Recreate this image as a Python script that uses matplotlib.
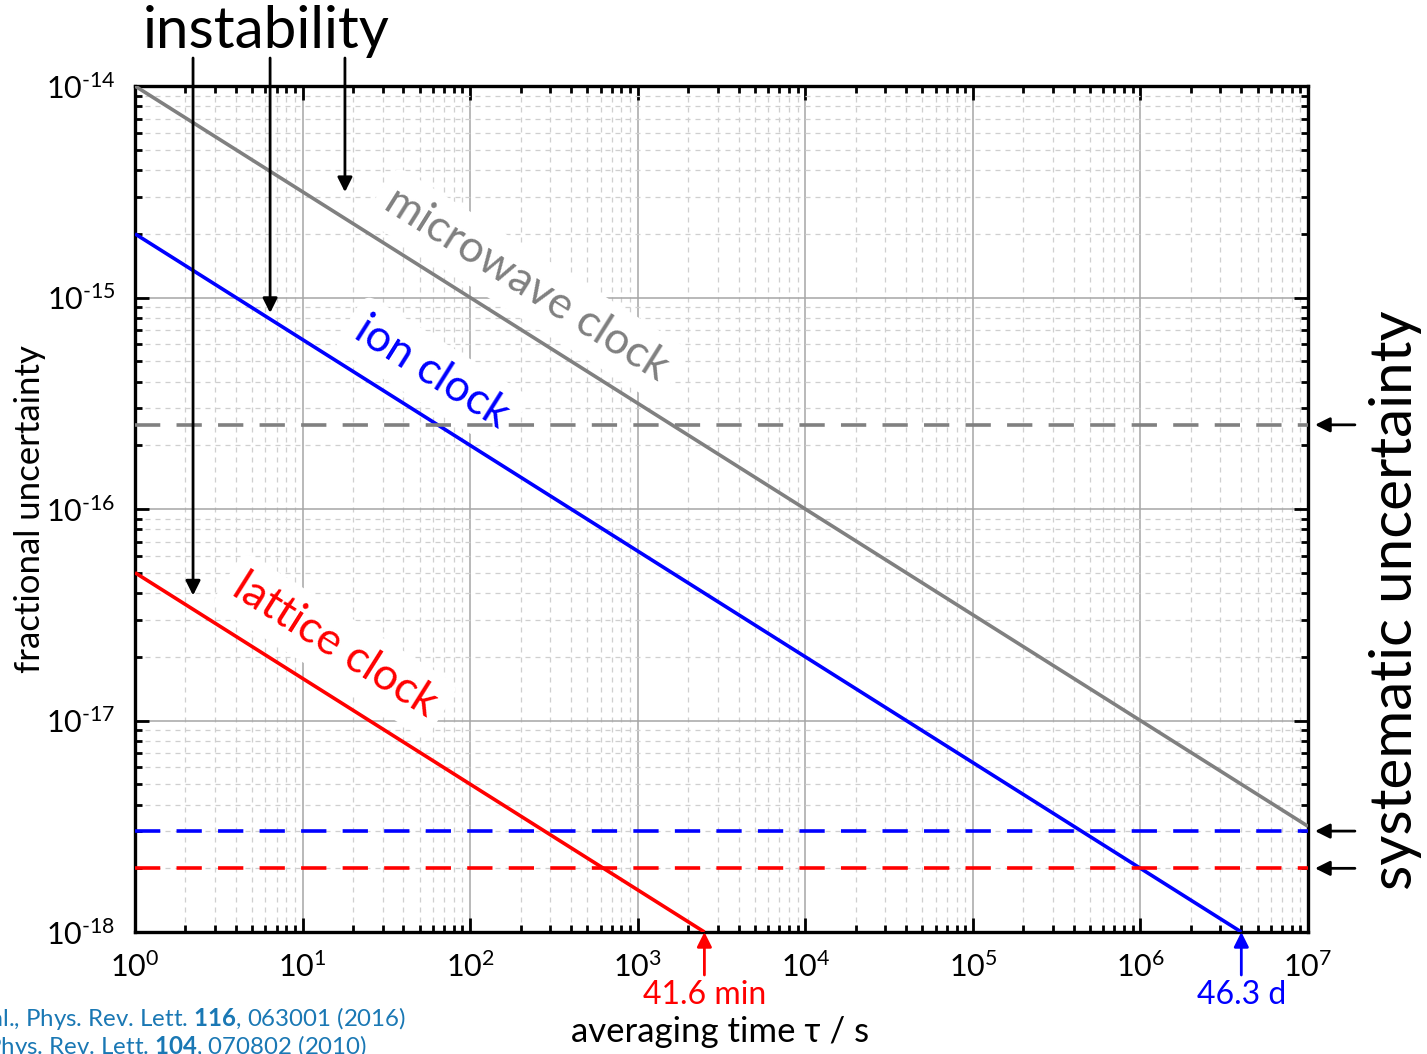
import numpy as np
import matplotlib
matplotlib.use("Agg")
import matplotlib.pyplot as plt
from matplotlib.ticker import LogLocator, NullFormatter, FixedFormatter, FixedLocator

plt.rcParams['font.family'] = ['Lato', 'DejaVu Sans']
plt.rcParams['mathtext.fontset'] = 'custom'
plt.rcParams['mathtext.rm'] = 'Lato'
plt.rcParams['mathtext.it'] = 'Lato:italic'
plt.rcParams['mathtext.bf'] = 'Lato:bold'

# instability lines (sigma(tau) ~ tau^-1/2), endpoints
clocks = ['microwave clock', 'ion clock', 'lattice clock']
colors = ['#808080', '#0000ff', '#ff0000']
tau_ends = [[1, 1e7], [1, 4e6], [1, 2500]]
sigma_ends = [[1e-14, 3.16e-18], [2e-15, 1e-18], [5e-17, 1e-18]]

# systematic uncertainty levels
systematic = [2.5e-16, 3e-18, 2e-18]

# label positions for the clock names
label_x = [218, 59, 15.6]
label_y = [1.15e-15, 4.44e-16, 2.27e-17]

# where the "instability" arrows point
inst_x = [2.22, 6.4, 17.9]
inst_y = [3.9e-17, 8.45e-16, 3.15e-15]

# averaging times reaching 1e-18
reach_tau = [2500, 4e6]
reach_text = ['41.6 min', '46.3 d']
reach_color = ['#ff0000', '#0000ff']

xticks = [10.0 ** k for k in range(0, 8)]
xlabels = ['$10^{%d}$' % k for k in range(0, 8)]
yticks = [10.0 ** k for k in range(-18, -13)]
ylabels = ['$10^{\u2010%d}$' % -k for k in range(-18, -13)]

fig = plt.figure(figsize=(14.27, 10.54), dpi=100)
ax = fig.add_axes([135 / 1427, 1 - 932 / 1054, 1173 / 1427, 846 / 1054])
ax.set_xscale('log')
ax.set_yscale('log')
ax.set_xlim(1, 1e7)
ax.set_ylim(1e-18, 1e-14)

ax.grid(which='major', color='#a6a6a6', lw=1.1, ls='-', zorder=0)
ax.grid(which='minor', color='#cfcfcf', lw=0.9, ls=(0, (4, 4)), zorder=0)

for t, s, c in zip(tau_ends, sigma_ends, colors):
    ax.plot(t, s, color=c, lw=2.6, zorder=3, solid_capstyle='butt')
for s, c in zip(systematic, colors):
    ax.plot([1, 1e7], [s, s], color=c, lw=2.6, ls=(0, (7, 4.5)), zorder=3)

for name, x, y, c in zip(clocks, label_x, label_y, colors):
    ax.text(x, y, name, color=c, fontsize=32, rotation=-32.2,
            ha='center', va='center', rotation_mode='anchor', zorder=2,
            bbox=dict(boxstyle='round,pad=0.25,rounding_size=0.3', fc='white', ec='none'))

ax.xaxis.set_major_locator(FixedLocator(xticks))
ax.xaxis.set_major_formatter(FixedFormatter(xlabels))
ax.yaxis.set_major_locator(FixedLocator(yticks))
ax.yaxis.set_major_formatter(FixedFormatter(ylabels))
ax.xaxis.set_minor_locator(LogLocator(base=10, subs=np.arange(2, 10), numticks=20))
ax.yaxis.set_minor_locator(LogLocator(base=10, subs=np.arange(2, 10), numticks=20))
ax.xaxis.set_minor_formatter(NullFormatter())
ax.yaxis.set_minor_formatter(NullFormatter())
ax.tick_params(which='both', direction='in', top=True, right=True, width=2, labelsize=22)
ax.tick_params(which='major', length=10)
ax.tick_params(which='minor', length=5)
ax.tick_params(axis='x', pad=14)
ax.tick_params(axis='y', pad=14)
for sp in ax.spines.values():
    sp.set_linewidth(2.4)

ax.set_xlabel('averaging time τ / s', fontsize=25)
ax.set_ylabel('fractional uncertainty', fontsize=25)
ax.xaxis.set_label_coords(0.499, (932 - 1032) / 846)
ax.yaxis.set_label_coords((30 - 135) / 1173, 0.5)
ax.xaxis.label.set_va('center')
ax.yaxis.label.set_va('center')

# instability header and its arrows
fig.text(143 / 1427, 1 - 32 / 1054, 'instability', fontsize=42, ha='left', va='center')
for x, y in zip(inst_x, inst_y):
    ax.annotate('', xy=(x, y), xycoords='data',
                xytext=(x, 1 - 58 / 1054), textcoords=('data', 'figure fraction'),
                arrowprops=dict(arrowstyle='-|>', color='k', lw=2, mutation_scale=22,
                                shrinkA=0, shrinkB=0), annotation_clip=False)

# systematic uncertainty header and its arrows
fig.text(1395 / 1427, 1 - 600 / 1054, 'systematic uncertainty', fontsize=42,
         rotation=90, ha='center', va='center')
for s in systematic:
    ax.annotate('', xy=(1.006, s), xycoords=('axes fraction', 'data'),
                xytext=(1.040, s), textcoords=('axes fraction', 'data'),
                arrowprops=dict(arrowstyle='-|>', color='k', lw=2, mutation_scale=22,
                                shrinkA=0, shrinkB=0), annotation_clip=False)

# averaging time needed to reach 1e-18
for t, txt, c in zip(reach_tau, reach_text, reach_color):
    ax.annotate('', xy=(t, 1e-18), xycoords='data',
                xytext=(t, 1 - 975 / 1054), textcoords=('data', 'figure fraction'),
                arrowprops=dict(arrowstyle='-|>', color=c, lw=2, mutation_scale=22,
                                shrinkA=0, shrinkB=0), annotation_clip=False)
    ax.annotate(txt, xy=(t, 1 - 995 / 1054), xycoords=('data', 'figure fraction'),
                color=c, fontsize=23, ha='center', va='center', annotation_clip=False)

# references
cite = '#1a78b4'
fig.text(406 / 1427, 1 - 1019 / 1054,
         r'N. Huntemann et al., Phys. Rev. Lett. $\mathbf{116}$, 063001 (2016)',
         fontsize=17.3, color=cite, ha='right', va='center')
fig.text(367 / 1427, 1 - 1047 / 1054,
         r'C. W. Chou et al., Phys. Rev. Lett. $\mathbf{104}$, 070802 (2010)',
         fontsize=17.3, color=cite, ha='right', va='center')

fig.savefig('out.png', dpi=100)
